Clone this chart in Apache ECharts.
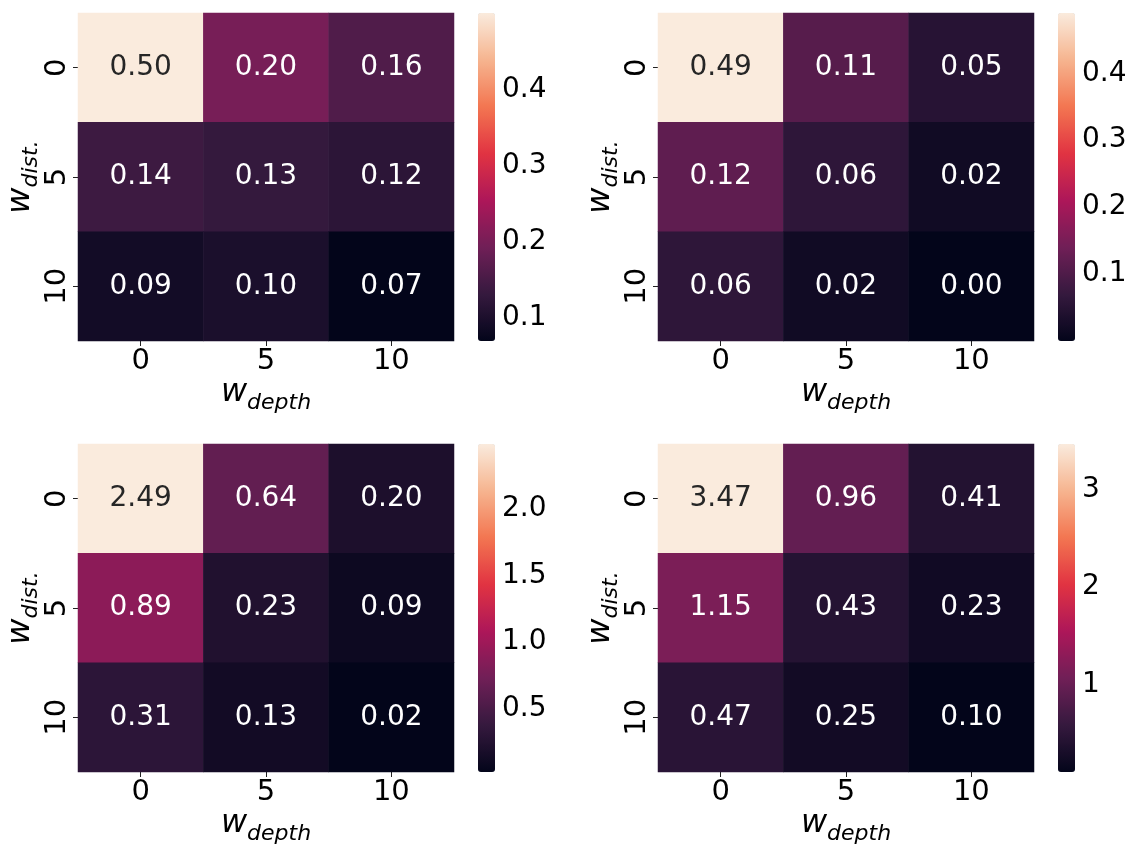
<!DOCTYPE html>
<html>
<head>
<meta charset="utf-8">
<script src="https://cdn.jsdelivr.net/npm/echarts@6/dist/echarts.min.js"></script>
<style>
  html, body { margin: 0; padding: 0; background: #ffffff; }
  #chart { width: 1134px; height: 846px; }
</style>
</head>
<body>
<div id="chart"></div>
<script>
// Grid search over the two loss weights: columns are w_depth, rows are w_dist.
const depthWeights = ['0', '5', '10'];
const distWeights = ['0', '5', '10'];

// One 3x3 table per panel (row = w_dist., column = w_depth)
const panelA = [[0.50, 0.20, 0.16], [0.14, 0.13, 0.12], [0.09, 0.10, 0.07]];
const panelB = [[0.49, 0.11, 0.05], [0.12, 0.06, 0.02], [0.06, 0.02, 0.00]];
const panelC = [[2.49, 0.64, 0.20], [0.89, 0.23, 0.09], [0.31, 0.13, 0.02]];
const panelD = [[3.47, 0.96, 0.41], [1.15, 0.43, 0.23], [0.47, 0.25, 0.10]];

// Colour-bar ticks for each panel
const ticksA = [0.1, 0.2, 0.3, 0.4];
const ticksB = [0.1, 0.2, 0.3, 0.4];
const ticksC = [0.5, 1.0, 1.5, 2.0];
const ticksD = [1, 2, 3];
const tickLabelsA = ['0.1', '0.2', '0.3', '0.4'];
const tickLabelsB = ['0.1', '0.2', '0.3', '0.4'];
const tickLabelsC = ['0.5', '1.0', '1.5', '2.0'];
const tickLabelsD = ['1', '2', '3'];

// ---- styling / layout ----
const FONT = 'DejaVu Sans';
const ROCKET = ['#03051a', '#35193e', '#701f57', '#ad1759', '#e13342', '#f37651', '#f6b48f', '#faebdd'];
const MAP_W = 376, MAP_H = 328, BAR_OFFSET = 400, BAR_W = 17;
const ORIGINS = [
  { left: 78, top: 13 }, { left: 658, top: 13 },
  { left: 78, top: 444 }, { left: 658, top: 444 }
];
const panels = [
  { values: panelA, ticks: ticksA, labels: tickLabelsA },
  { values: panelB, ticks: ticksB, labels: tickLabelsB },
  { values: panelC, ticks: ticksC, labels: tickLabelsC },
  { values: panelD, ticks: ticksD, labels: tickLabelsD }
];

const nameRich = {
  w: { fontFamily: FONT, fontSize: 32, fontStyle: 'italic', color: '#000', lineHeight: 32, verticalAlign: 'top' },
  s: { fontFamily: FONT, fontSize: 22, fontStyle: 'italic', color: '#000', lineHeight: 22, verticalAlign: 'top', padding: [15, 0, 0, 0] }
};

const grid = [], xAxis = [], yAxis = [], series = [], visualMap = [];

panels.forEach((p, i) => {
  const o = ORIGINS[i];
  const flat = p.values.flat();
  const vmin = Math.min(...flat), vmax = Math.max(...flat);
  const hm = 2 * i, cb = 2 * i + 1;

  grid.push({ left: o.left, top: o.top, width: MAP_W, height: MAP_H });
  grid.push({ left: o.left + BAR_OFFSET, top: o.top, width: BAR_W, height: MAP_H });

  xAxis.push({
    type: 'category', gridIndex: hm, data: depthWeights, position: 'bottom',
    axisLine: { show: false },
    axisTick: { show: true, alignWithLabel: true, length: 5, lineStyle: { color: '#222', width: 1 } },
    axisLabel: { interval: 0, fontFamily: FONT, fontSize: 29, color: '#000', margin: 6 },
    splitLine: { show: false },
    name: '{w|w}{s|depth}', nameLocation: 'middle', nameGap: 33,
    nameTextStyle: { rich: nameRich }
  });
  xAxis.push({ type: 'value', gridIndex: cb, show: false, min: 0, max: 1 });

  yAxis.push({
    type: 'category', gridIndex: hm, data: distWeights, inverse: true, position: 'left',
    axisLine: { show: false },
    axisTick: { show: true, alignWithLabel: true, length: 5, lineStyle: { color: '#222', width: 1 } },
    axisLabel: { interval: 0, rotate: 90, fontFamily: FONT, fontSize: 29, color: '#000', margin: 6 },
    splitLine: { show: false },
    name: '{w|w}{s|dist.}', nameLocation: 'middle', nameRotate: 90, nameGap: 38,
    nameTextStyle: { rich: nameRich }
  });
  yAxis.push({
    type: 'value', gridIndex: cb, position: 'right', min: vmin, max: vmax,
    axisLine: { show: false },
    splitLine: { show: false },
    axisTick: { show: true, length: 5, customValues: p.ticks, lineStyle: { color: '#222', width: 1 } },
    axisLabel: {
      customValues: p.ticks, fontFamily: FONT, fontSize: 28, color: '#000', margin: 7,
      formatter: v => {
        const k = p.ticks.findIndex(t => Math.abs(t - v) < 1e-9);
        return k >= 0 ? p.labels[k] : '';
      }
    }
  });

  const data = [];
  p.values.forEach((row, r) => row.forEach((v, c) => {
    const frac = (v - vmin) / (vmax - vmin);
    data.push({ value: [c, r, v], label: { color: frac > 0.78 ? '#262626' : '#ffffff' } });
  }));

  series.push({
    type: 'heatmap', xAxisIndex: hm, yAxisIndex: hm, data: data,
    label: { show: true, fontFamily: FONT, fontSize: 28, formatter: prm => prm.value[2].toFixed(2) },
    itemStyle: { borderWidth: 0 },
    emphasis: { disabled: true }
  });

  visualMap.push({
    type: 'continuous', seriesIndex: i, dimension: 2, min: vmin, max: vmax,
    calculable: false, hoverLink: false, orient: 'vertical',
    left: o.left + BAR_OFFSET, top: o.top, itemWidth: BAR_W, itemHeight: MAP_H,
    padding: 0, text: null, showLabel: false,
    inRange: { color: ROCKET }
  });
});

const chart = echarts.init(document.getElementById('chart'), null, { renderer: 'canvas' });
chart.setOption({
  backgroundColor: '#ffffff',
  animation: false,
  textStyle: { fontFamily: FONT },
  grid, xAxis, yAxis, series, visualMap
});
</script>
</body>
</html>
